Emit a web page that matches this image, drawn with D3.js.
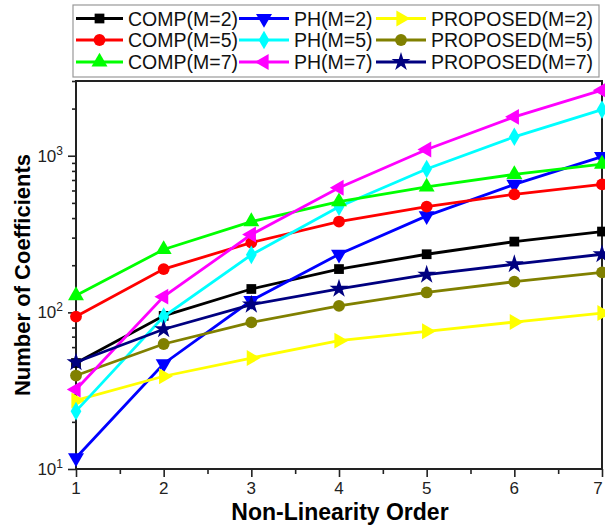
<!DOCTYPE html>
<html><head><meta charset="utf-8">
<script src="https://cdn.jsdelivr.net/npm/d3@7"></script>
<style>body{margin:0;background:#fff}svg{display:block}text{font-family:"Liberation Sans",Arial,sans-serif}</style>
</head><body><svg id="c" width="605" height="527"></svg>
<script>
const orders = [1,2,3,4,5,6,7];
const comp2 = [47.5,95,141,189,235,283,328];
const comp5 = [94,189,279,380,473,567,656];
const comp7 = [128,252,380,509,632,760,885];
const ph2 = [11.8,47,119,235,413,656,986];
const ph5 = [23.4,94,233,473,823,1321,1971];
const ph7 = [32.2,126,314,625,1096,1771,2620];
const prop2 = [27.4,39.1,51.1,66,75.7,86.7,99];
const prop5 = [39.5,62.8,86.3,110,134,157,180];
const prop7 = [48,78,112,141.5,174,203,235];
const seriesNames = ["COMP(M=2)","PH(M=2)","PROPOSED(M=2)","COMP(M=5)","PH(M=5)","PROPOSED(M=5)","COMP(M=7)","PH(M=7)","PROPOSED(M=7)"];
const seriesValues = [comp2,ph2,prop2,comp5,ph5,prop5,comp7,ph7,prop7];
const colors = ["#000000","#0000ff","#ffff00","#ff0000","#00ffff","#808000","#00ff00","#ff00ff","#000080"];
const yTickExp = [1,2,3];

const markers = [
  {t:d3.symbolSquare,r:0,s:95},
  {t:d3.symbolTriangle,r:180,s:110},
  {t:d3.symbolTriangle,r:90,s:110},
  {t:d3.symbolCircle,r:0,s:110},
  {t:d3.symbolDiamond,r:0,s:100},
  {t:d3.symbolCircle,r:0,s:110},
  {t:d3.symbolTriangle,r:0,s:110},
  {t:d3.symbolTriangle,r:-90,s:110},
  {t:d3.symbolStar,r:0,s:110}
];

const svg = d3.select("#c");
const L=76,R=602,T=81,B=469;
const x = d3.scaleLinear().domain([1,7]).range([L,R]);
const y = d3.scaleLog().domain([10,3000]).range([B,T]);

// frame
svg.append("rect").attr("x",L).attr("y",T).attr("width",R-L).attr("height",B-T)
  .attr("fill","none").attr("stroke","#222").attr("stroke-width",2);

// x ticks
const xt = svg.append("g").attr("transform",`translate(0,${B})`);
xt.call(d3.axisBottom(x).tickValues(orders).tickSize(8).tickFormat(""));
xt.append("g").call(d3.axisBottom(x).tickValues(d3.range(1.5,7,1)).tickSize(5).tickFormat(""));
xt.selectAll(".domain").remove();
xt.selectAll("line").attr("stroke","#222").attr("stroke-width",1.6);
orders.forEach(o=>{
  svg.append("text").attr("x",Math.min(x(o),598)).attr("y",494).attr("text-anchor","middle")
    .attr("font-size",17).attr("fill","#222").text(o);
});

// y ticks
const minor=[];
for(let e=1;e<=3;e++){for(let m=2;m<=9;m++){const v=m*Math.pow(10,e); if(v<=3000) minor.push(v);}}
const yt = svg.append("g").attr("transform",`translate(${L},0)`);
yt.call(d3.axisLeft(y).tickValues(yTickExp.map(e=>Math.pow(10,e))).tickSize(8).tickFormat(""));
yt.append("g").call(d3.axisLeft(y).tickValues(minor).tickSize(4).tickFormat(""));
yt.selectAll(".domain").remove();
yt.selectAll("line").attr("stroke","#222").attr("stroke-width",1.6);
yTickExp.forEach(e=>{
  const t=svg.append("text").attr("x",63).attr("y",y(Math.pow(10,e))+6).attr("text-anchor","end")
    .attr("font-size",17).attr("fill","#222");
  t.append("tspan").text("10");
  t.append("tspan").text(e).attr("font-size",12).attr("dy",-7);
});

// axis titles
svg.append("text").attr("x",340).attr("y",520).attr("text-anchor","middle")
  .attr("font-size",23).attr("font-weight","bold").text("Non-Linearity Order");
svg.append("text").attr("transform",`translate(30,${(T+B)/2}) rotate(-90)`).attr("text-anchor","middle")
  .attr("font-size",22).attr("font-weight","bold").text("Number of Coefficients");

// lines
const line = d3.line().x((d,i)=>x(orders[i])).y(d=>y(d));
const sym = (m)=>d3.symbol().type(m.t).size(m.s)();
seriesValues.forEach((vals,k)=>{
  const g=svg.append("g");
  g.append("path").attr("d",line(vals)).attr("fill","none").attr("stroke",colors[k]).attr("stroke-width",2.8);
  vals.forEach((v,i)=>{
    g.append("path").attr("d",sym(markers[k]))
      .attr("transform",`translate(${x(orders[i])},${y(v)}) rotate(${markers[k].r})`)
      .attr("fill",colors[k]);
  });
});

// legend
const lg=svg.append("g");
lg.append("rect").attr("x",73).attr("y",5).attr("width",526).attr("height",72)
  .attr("fill","#fff").attr("stroke","#999").attr("stroke-width",1.2);
const colX=[76,239,376], rowY=[18.5,40,62], lineW=[47,50,50];
seriesNames.forEach((n,k)=>{
  const c=k%3, r=Math.floor(k/3);
  const x0=colX[c], yy=rowY[r];
  lg.append("line").attr("x1",x0).attr("x2",x0+lineW[c]).attr("y1",yy).attr("y2",yy)
    .attr("stroke",colors[k]).attr("stroke-width",2.8);
  lg.append("path").attr("d",sym(markers[k]))
    .attr("transform",`translate(${x0+lineW[c]/2},${yy}) rotate(${markers[k].r})`).attr("fill",colors[k]);
  lg.append("text").attr("x",x0+lineW[c]+5).attr("y",yy+7).attr("font-size",19.5).attr("fill","#111").text(n);
});
</script></body></html>
